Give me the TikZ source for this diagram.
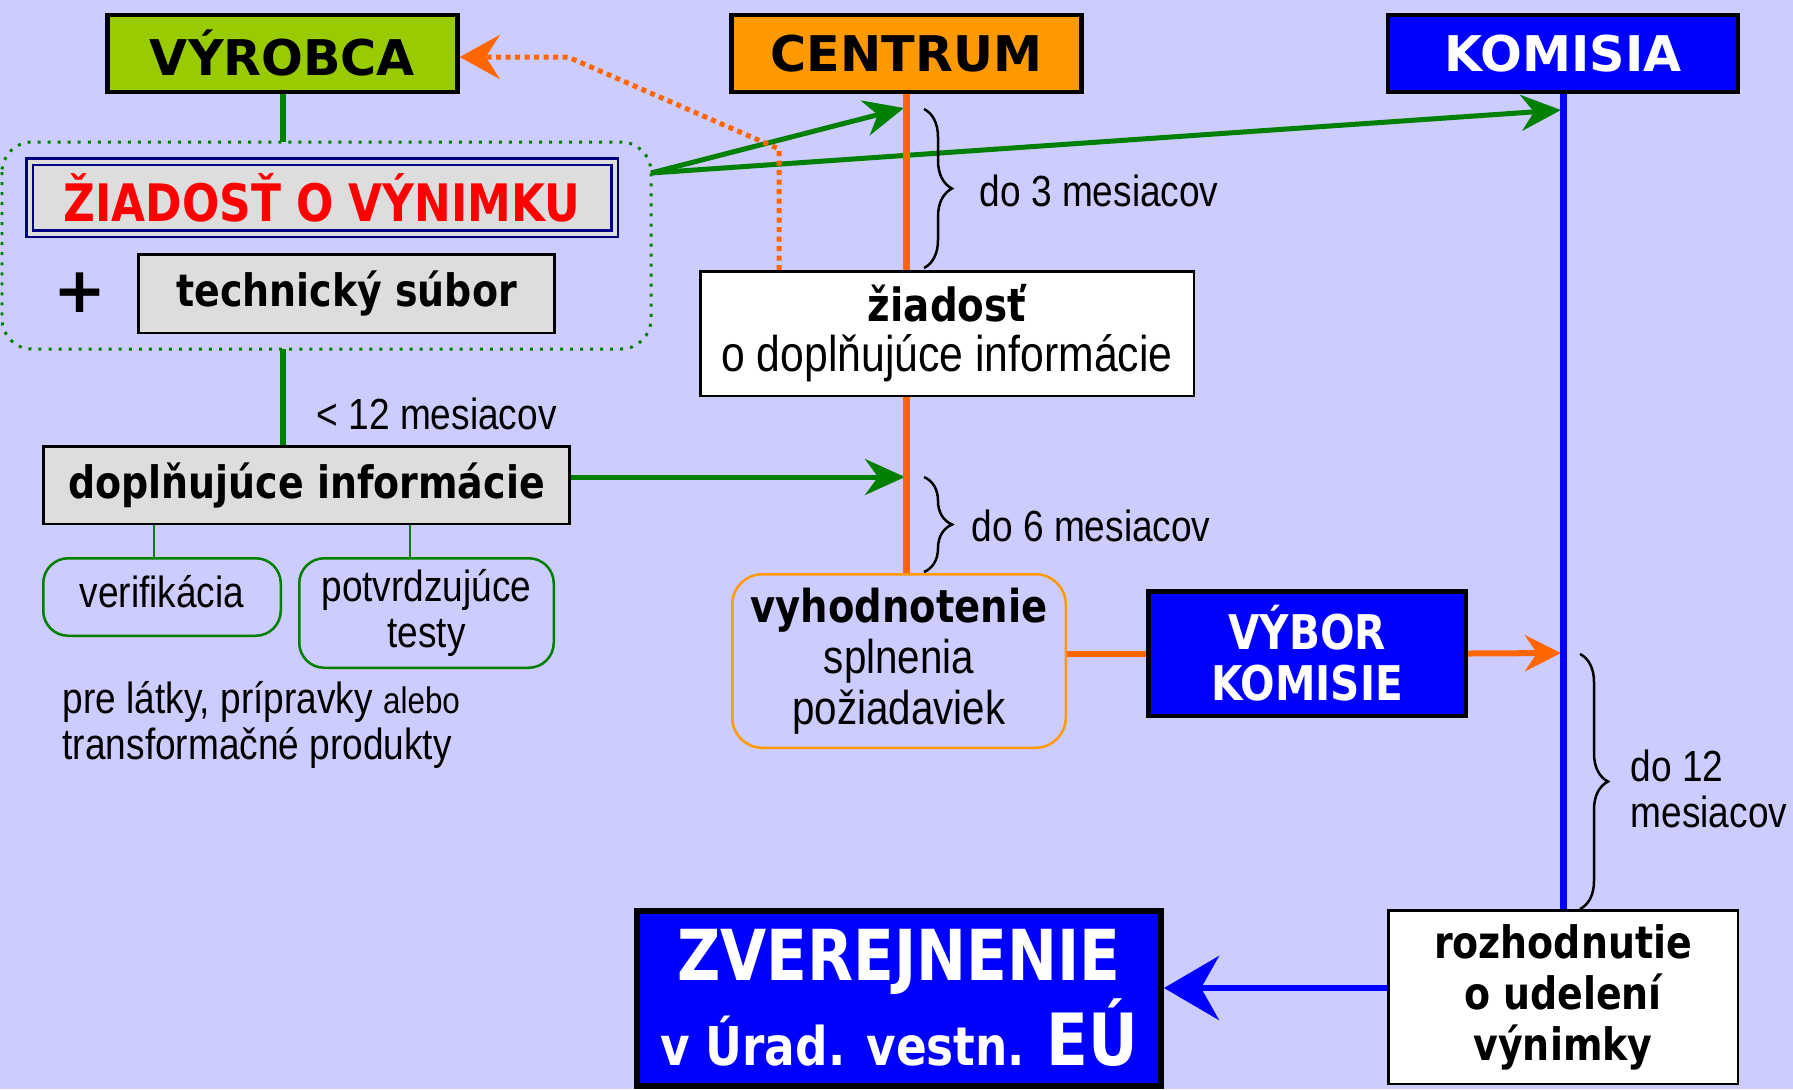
\documentclass[tikz,border=0pt]{standalone}
\usepackage{fontspec}
\setmainfont{Liberation Sans}
\newfontfamily\headfont{DejaVu Sans}
\newfontfamily\condfont[FakeStretch=0.85]{DejaVu Sans}
\newfontfamily\narrowfont[FakeStretch=0.85]{Liberation Sans}
\usetikzlibrary{arrows.meta,decorations.pathreplacing}

\definecolor{lavender}{HTML}{CCCCFF}
\definecolor{lime}{HTML}{99CC00}
\definecolor{amber}{HTML}{FF9900}
\definecolor{flame}{HTML}{FF6600}
\definecolor{leaf}{HTML}{008000}
\definecolor{boxgray}{HTML}{DDDDDD}
\definecolor{deepnavy}{HTML}{000080}

\begin{document}
\begin{tikzpicture}[x=0.1mm,y=-0.1mm,
  box/.style={draw=black,line width=0.25mm,inner sep=0pt,align=center},
  head/.style={box,line width=0.45mm,minimum width=35mm,minimum height=7.7mm,
    font=\headfont\bfseries\fontsize{14}{17}\selectfont},
  bold/.style={font=\condfont\bfseries\fontsize{12.7}{14.5}\selectfont},
  plain/.style={font=\narrowfont\fontsize{12.4}{13}\selectfont},
  label/.style={plain,inner sep=0pt,anchor=west,align=left},
  greenbox/.style={box,draw=leaf,rounded corners=2.5mm,plain},
  brace/.style={draw=black,line width=0.25mm,decorate,decoration={brace,amplitude=2.8mm}},
  greenarrow/.style={draw=leaf,line width=0.5mm,-{Stealth[length=4mm,width=3.6mm,inset=1.3mm]}}]

\clip (0,0) rectangle (1793,1089);
\fill[lavender] (0,0) rectangle (1793,1089);

% heads
\node[head,fill=lime] (vyrobca) at (282.5,53.5) {VÝROBCA};
\node[head,fill=amber] (centrum) at (906.5,53.5) {CENTRUM};
\node[head,fill=blue,text=white] (komisia) at (1563,53.5) {KOMISIA};

% application
\draw[leaf,line width=0.3mm,dotted,rounded corners=3mm] (2,142) rectangle (651,349);
\coordinate (grpout) at (651,173);
\coordinate (grptop) at (282.5,142);
\coordinate (grpbot) at (282.5,349);
\node[box,draw=deepnavy,double=boxgray,double distance=0.4mm,fill=boxgray,
  minimum width=58.5mm,minimum height=7.2mm,text=red,
  font=\condfont\bfseries\fontsize{14.7}{17}\selectfont] (ziadost) at (322,197.5) {ŽIADOSŤ O VÝNIMKU};
\node[font=\headfont\bfseries\fontsize{18}{20}\selectfont] (plus) at (80,293) {+};
\node[box,fill=boxgray,bold,minimum width=41.6mm,minimum height=7.85mm] (subor) at (346.5,293.5) {technický súbor};

\node[box,fill=boxgray,bold,minimum width=52.6mm,minimum height=7.75mm] (doplnk) at (306.5,485) {doplňujúce informácie};
\node[label] (lt12) at (316,414) {< 12 mesiacov};
\node[greenbox,minimum width=23.75mm,minimum height=7.75mm,text depth=1.2mm] (verif) at (162,597) {verifikácia};
\node[greenbox,minimum width=25.45mm,minimum height=10.95mm] (testy) at (426.5,613) {potvrdzujúce\\testy};
\node[label] (latky) at (62,725)
  {pre látky, prípravky {\fontsize{10.5}{13}\selectfont alebo}\\transformačné produkty};

% centre
\node[box,fill=white,minimum width=49.35mm,minimum height=12.45mm,
  font=\narrowfont\fontsize{14.3}{14.2}\selectfont] (dotaz) at (947,333.5)
  {{\condfont\bfseries\fontsize{13}{14}\selectfont žiadosť}\\o doplňujúce informácie};
\node[box,draw=amber,rounded corners=3mm,minimum width=33.35mm,minimum height=17.35mm,
  font=\narrowfont\fontsize{13.5}{14.5}\selectfont] (hodnot) at (899,661)
  {{\condfont\bfseries\fontsize{12.9}{14.5}\selectfont vyhodnotenie}\\splnenia\\požiadaviek};
\node[box,line width=0.45mm,fill=blue,text=white,minimum width=31.75mm,minimum height=12.45mm,
  font=\condfont\bfseries\fontsize{13.6}{14.5}\selectfont] (vybor) at (1307,653.5) {VÝBOR\\KOMISIE};
\node[box,fill=white,bold,minimum width=34.95mm,minimum height=17.35mm] (rozhod) at (1563,997)
  {rozhodnutie\\o udelení\\výnimky};
\node[box,line width=0.6mm,fill=blue,text=white,minimum width=52.4mm,minimum height=17.5mm,
  font=\condfont\bfseries\fontsize{20}{21}\selectfont] (zverej) at (899,998)
  {ZVEREJNENIE\\{\fontsize{15.2}{21}\selectfont v Úrad. vestn. }{\fontsize{20.5}{21}\selectfont EÚ}};

% connectors
\draw[leaf,line width=0.6mm] (vyrobca) -- (grptop);
\draw[leaf,line width=0.6mm] (grpbot) -- (grpbot |- doplnk.north);
\draw[leaf,line width=0.2mm] ([xshift=-0.8mm]verif.north |- doplnk.south) -- ([xshift=-0.8mm]verif.north);
\draw[leaf,line width=0.2mm] ([xshift=-1.7mm]testy.north |- doplnk.south) -- ([xshift=-1.7mm]testy.north);

\coordinate (ctrin) at (904,108);
\coordinate (komin) at (1561,110);
\coordinate (ctrmid) at (905,477);
\coordinate (komvyb) at (1561,653);
\draw[greenarrow] (grpout) -- (ctrin);
\draw[greenarrow] (grpout) -- (komin);
\draw[greenarrow] (doplnk.east |- ctrmid) -- (ctrmid);

\draw[flame,line width=0.7mm] (centrum.south) -- (centrum.south |- dotaz.north);
\draw[flame,line width=0.7mm] (centrum.south |- dotaz.south) -- (centrum.south |- hodnot.north);
\draw[flame,line width=0.6mm] (hodnot.east |- vybor.west) -- (vybor.west);
\draw[flame,line width=0.6mm,-{Stealth[length=3.6mm,width=3.6mm,inset=1.2mm]}] (vybor.east) -- (komvyb);
\draw[blue,line width=0.7mm] (komisia.south) -- (rozhod.north);
\draw[blue,line width=0.6mm,-{Stealth[length=5.5mm,width=6.4mm,inset=1.8mm]}] (rozhod.west |- 0,988) -- (zverej.east |- 0,988);

\coordinate (dotbase) at (779,270);
\coordinate (dotup) at (779,149);
\coordinate (dotbend) at (568,57);
\draw[flame,line width=0.5mm,dash pattern=on 0.5mm off 0.45mm,
  -{Stealth[length=4mm,width=4.4mm,inset=1.4mm]}] (dotbase) -- (dotup) -- (dotbend) -- (vyrobca.east |- dotbend);

% time spans
\draw[brace] (924,109) -- (924,268);
\draw[brace] (924,477) -- (924,572);
\draw[brace] (1580,654) -- (1580,909);
\node[label] (span3) at (979,191) {do 3 mesiacov};
\node[label] (span6) at (971,526) {do 6 mesiacov};
\node[label] (span12) at (1630,789) {do 12\\mesiacov};
\end{tikzpicture}
\end{document}
